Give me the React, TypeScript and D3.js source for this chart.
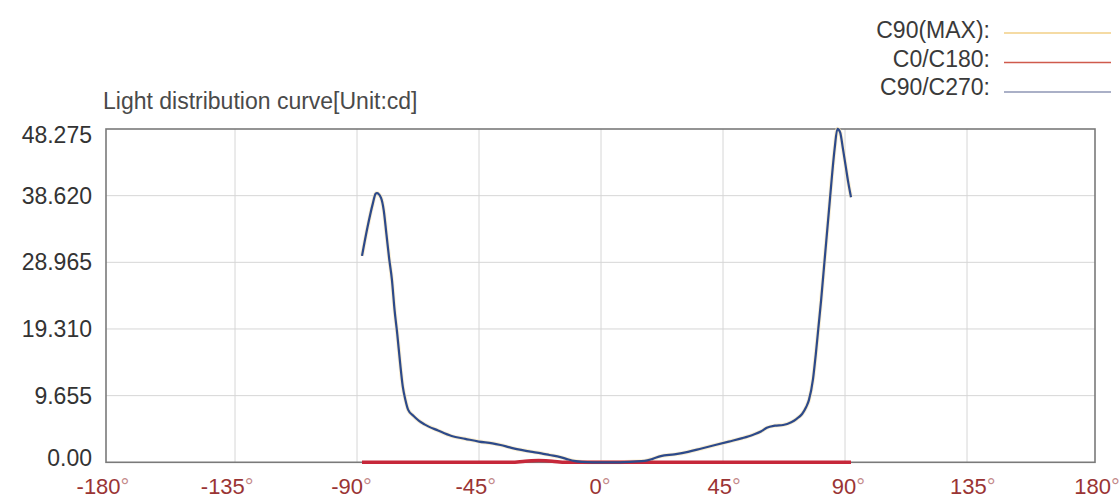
import React from "react";
import * as d3 from "d3";

// ---- data ----
const yTicks = [0, 9.655, 19.31, 28.965, 38.62, 48.275];
const yTickLabels = ["0.00", "9.655", "19.310", "28.965", "38.620", "48.275"];
const xTicks = [-180, -135, -90, -45, 0, 45, 90, 135, 180];

const c90Angles = [
  -90, -88, -86, -85, -84.5, -83, -82, -81, -80, -79, -78, -77, -76, -75, -74, -73, -71, -69,
  -67, -62, -57, -52, -47, -42, -39, -36, -33, -28, -24, -21, -17, -14, -12, -9, -5, 0, 5, 10,
  14, 17, 20, 25, 30, 35, 40, 45, 50, 54, 57, 59, 62, 65, 68, 70, 72, 73.5, 74.5, 76, 77, 78,
  79, 80, 81, 82, 83, 84, 85, 86, 87, 88, 89, 90,
];
const c90Values = [
  29.9, 34, 37.5, 38.9, 39.0, 38.3, 36.5, 33, 29.5, 26.5, 22, 18.5, 14.5, 11, 9, 7.6, 6.7, 6.0,
  5.5, 4.6, 3.8, 3.4, 3.0, 2.75, 2.5, 2.2, 1.9, 1.55, 1.3, 1.06, 0.75, 0.4, 0.2, 0.05, 0, 0, 0,
  0.1, 0.2, 0.5, 0.9, 1.15, 1.5, 2.0, 2.5, 3.0, 3.5, 4.0, 4.5, 5.0, 5.3, 5.4, 5.8, 6.3, 7.0, 8.0,
  9.0, 12, 15.5, 19.5, 23.5, 28, 32.5, 37, 41.5, 45.5, 48.3, 47.8, 45.5, 43, 40.5, 38.4,
];

const c0Angles = [-90, -60, -35, -30, -25, -20, -15, -10, 0, 30, 60, 90];
const c0Values = [0, 0, 0, 0.15, 0.25, 0.15, 0, 0, 0, 0, 0, 0];

const legendItems = ["C90(MAX):", "C0/C180:", "C90/C270:"];
const legendColors = ["#f2cf86", "#cf5a4c", "#8e96b4"];

const W = 1120;
const H = 498;
const frame = { left: 106, right: 1095, top: 129, bottom: 462.3 };

export default function App() {
  React.useEffect(() => {
    document.body.style.margin = "0";
  }, []);

  const y = d3.scaleLinear().domain([0, 48.275]).range([frame.bottom, frame.top]);
  const xGrid = d3.scaleLinear().domain([-180, 180]).range([113, 1089]);
  const xLabel = d3.scaleLinear().domain([-180, 180]).range([103, 1097]);
  const xData = d3.scaleLinear().domain([-90, 90]).range([362, 851]);

  const c90 = c90Angles.map((a, i) => [a, c90Values[i]] as [number, number]);
  const c0 = c0Angles.map((a, i) => [a, c0Values[i]] as [number, number]);

  const line = d3
    .line<[number, number]>()
    .x((d) => xData(d[0]))
    .y((d) => y(d[1]))
    .curve(d3.curveMonotoneX);

  const font = "'Liberation Sans', Arial, Helvetica, sans-serif";

  return (
    <svg width={W} height={H} style={{ display: "block", background: "#fff" }} fontFamily={font}>
      {/* legend */}
      {legendItems.map((t, i) => (
        <g key={t}>
          <text x={990} y={38 + i * 28.5} textAnchor="end" fontSize={23} fill="#3a3a3a">
            {t}
          </text>
          <line
            x1={1004}
            x2={1111}
            y1={33 + i * 29.5}
            y2={33 + i * 29.5}
            stroke={legendColors[i]}
            strokeWidth={1.5}
          />
        </g>
      ))}

      {/* title */}
      <text x={103} y={109} fontSize={23} fill="#4a4a4a">
        Light distribution curve[Unit:cd]
      </text>

      {/* grid */}
      {yTicks.slice(1, -1).map((t) => (
        <line key={"gy" + t} x1={frame.left} x2={frame.right} y1={y(t)} y2={y(t)} stroke="#d6d6d6" strokeWidth={1} />
      ))}
      {xTicks.slice(1, -1).map((t) => (
        <line key={"gx" + t} x1={xGrid(t)} x2={xGrid(t)} y1={frame.top} y2={frame.bottom} stroke="#d6d6d6" strokeWidth={1} />
      ))}

      {/* frame */}
      <rect
        x={frame.left}
        y={frame.top}
        width={frame.right - frame.left}
        height={frame.bottom - frame.top}
        fill="none"
        stroke="#7a7a7a"
        strokeWidth={1.6}
      />

      {/* series */}
      <path d={line(c90) || ""} fill="none" stroke="#f6e6bd" strokeWidth={4} opacity={0.7} />
      <path d={line(c0) || ""} fill="none" stroke="#c6283a" strokeWidth={3.5} />
      <path d={line(c90) || ""} fill="none" stroke="#2d4a8a" strokeWidth={2.2} strokeLinejoin="round" />

      {/* y labels */}
      {yTicks.map((t, i) => (
        <text
          key={"yl" + t}
          x={92}
          y={Math.min(Math.max(y(t), 135), 458)}
          textAnchor="end"
          dominantBaseline="central"
          fontSize={23}
          fill="#333"
        >
          {yTickLabels[i]}
        </text>
      ))}

      {/* x labels */}
      {xTicks.map((t) => (
        <text key={"xl" + t} x={xLabel(t)} y={494} textAnchor="middle" fontSize={22} fill="#9a3434">
          {t}
          <tspan fill="#c48a8a">°</tspan>
        </text>
      ))}
    </svg>
  );
}
